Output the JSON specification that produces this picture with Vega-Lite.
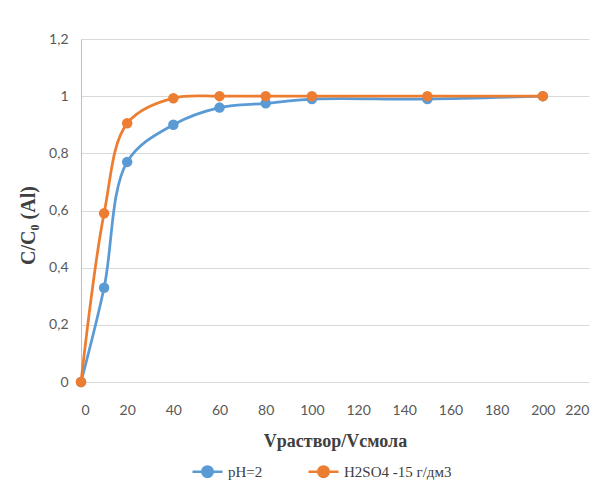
{
  "$schema": "https://vega.github.io/schema/vega-lite/v6.json",
  "width": 508,
  "height": 343,
  "autosize": "none",
  "padding": {"left": 81, "top": 39, "right": 18, "bottom": 115},
  "background": "white",
  "config": {
    "view": {"stroke": null},
    "axis": {"labelFont": "Lato", "labelFontSize": 14, "labelColor": "#595959", "gridColor": "#d9d9d9", "domainColor": "#d9d9d9", "ticks": false, "titleFont": "Liberation Serif", "titleFontWeight": "bold", "titleColor": "#404040"}
  },
  "data": {
    "values": [
      {"x": 0, "y": 0, "s": "pH=2"},
      {"x": 10, "y": 0.33, "s": "pH=2"},
      {"x": 20, "y": 0.77, "s": "pH=2"},
      {"x": 40, "y": 0.9, "s": "pH=2"},
      {"x": 60, "y": 0.96, "s": "pH=2"},
      {"x": 80, "y": 0.975, "s": "pH=2"},
      {"x": 100, "y": 0.99, "s": "pH=2"},
      {"x": 150, "y": 0.99, "s": "pH=2"},
      {"x": 200, "y": 1.0, "s": "pH=2"},
      {"x": 0, "y": 0, "s": "H2SO4 -15 г/дм3"},
      {"x": 10, "y": 0.59, "s": "H2SO4 -15 г/дм3"},
      {"x": 20, "y": 0.905, "s": "H2SO4 -15 г/дм3"},
      {"x": 40, "y": 0.993, "s": "H2SO4 -15 г/дм3"},
      {"x": 60, "y": 1.0, "s": "H2SO4 -15 г/дм3"},
      {"x": 80, "y": 1.0, "s": "H2SO4 -15 г/дм3"},
      {"x": 100, "y": 1.0, "s": "H2SO4 -15 г/дм3"},
      {"x": 150, "y": 1.0, "s": "H2SO4 -15 г/дм3"},
      {"x": 200, "y": 1.0, "s": "H2SO4 -15 г/дм3"}
    ]
  },
  "encoding": {
    "x": {"field": "x", "type": "quantitative", "scale": {"domain": [0, 220], "nice": false},
      "axis": {"values": [0,20,40,60,80,100,120,140,160,180,200,220], "grid": false, "labelPadding": 21, "title": "Vраствор/Vсмола", "titleFontSize": 18, "titlePadding": 15}},
    "y": {"field": "y", "type": "quantitative", "scale": {"domain": [0, 1.2], "nice": false},
      "axis": {"values": [0,0.2,0.4,0.6,0.8,1,1.2], "labelExpr": "replace(format(datum.value, '.1~f'), '.', ',')", "labelPadding": 13, "domainColor": "#bfbfbf", "title": "C/C₀   (Al)", "titleFontSize": 20, "titlePadding": 10, "titleY": 186}},
    "color": {"field": "s", "type": "nominal",
      "scale": {"domain": ["pH=2", "H2SO4 -15 г/дм3"], "range": ["#5B9BD5", "#ED7D31"]},
      "legend": {"orient": "none", "legendX": 110, "legendY": 416, "direction": "horizontal", "title": null, "labelFont": "Liberation Serif", "labelFontSize": 15, "labelColor": "#404040", "columnPadding": 40, "labelOffset": 4,
        "symbolType": "M-1,0L1,0M-0.35,0a0.35,0.35 0 1,0 0.7,0a0.35,0.35 0 1,0 -0.7,0",
        "symbolSize": 900, "symbolStrokeWidth": 2.5,
        "encode": {"symbols": {"update": {"fill": {"scale": "color", "field": "value"}, "stroke": {"scale": "color", "field": "value"}, "opacity": {"value": 1}}}}}}
  },
  "layer": [
    {"mark": {"type": "line", "interpolate": "catmull-rom", "strokeWidth": 2.75}},
    {"mark": {"type": "point", "filled": true, "size": 110, "opacity": 1}}
  ]
}
